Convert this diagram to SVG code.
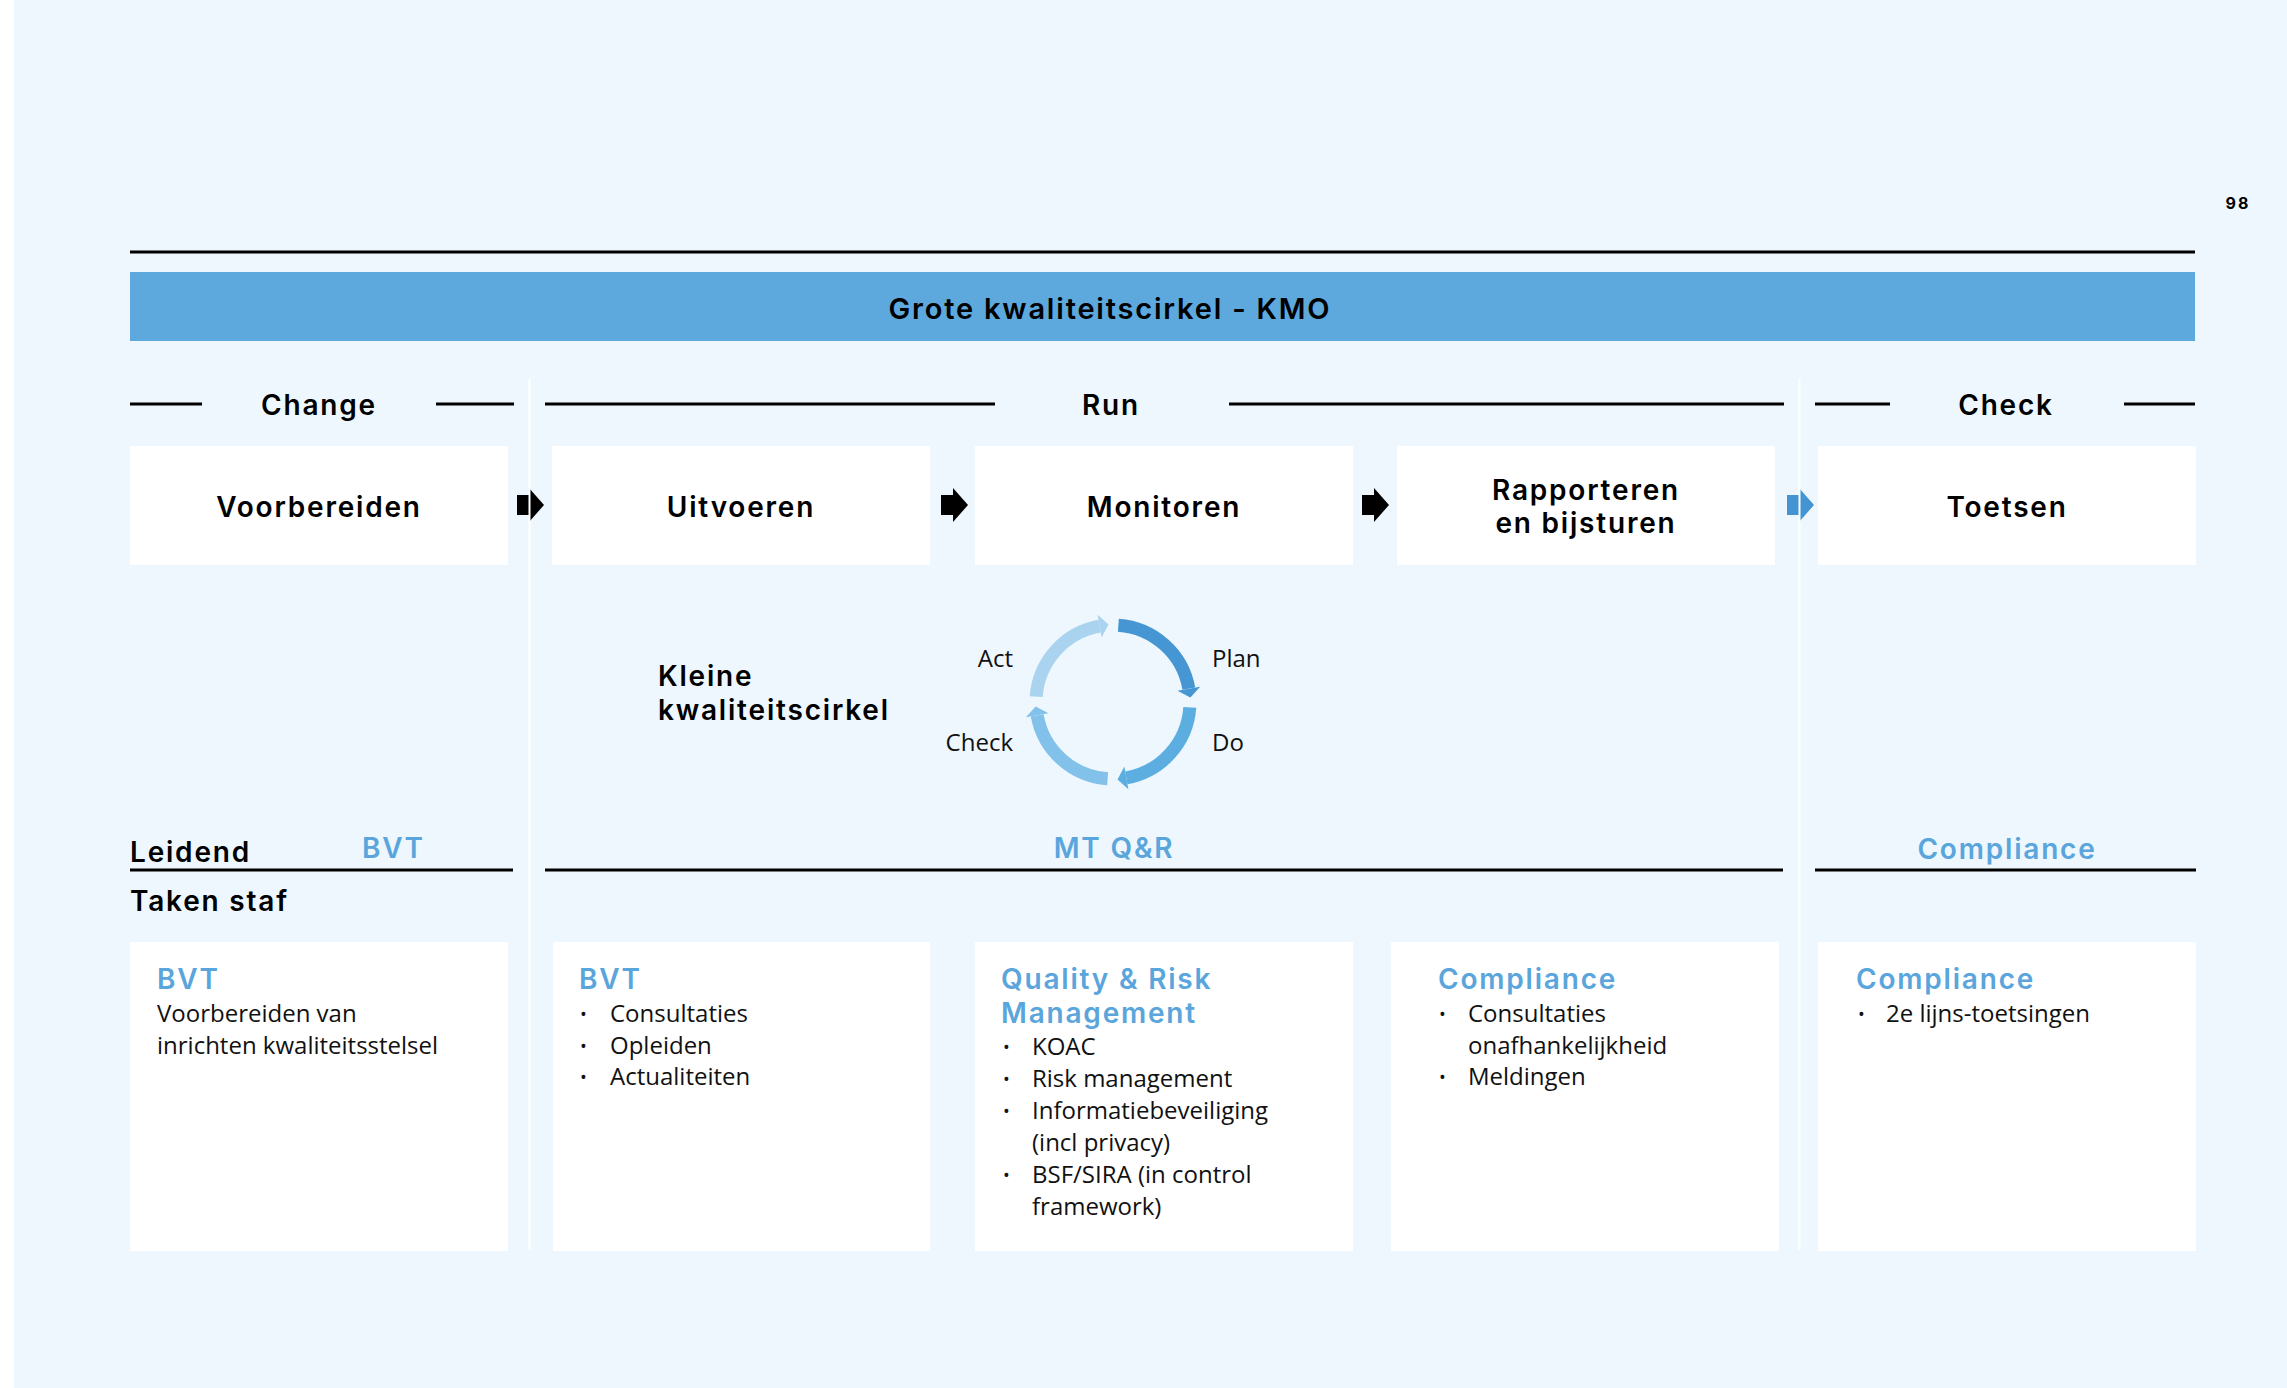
<svg xmlns="http://www.w3.org/2000/svg" width="2287" height="1388" viewBox="0 0 2287 1388">
  <style>
    .hd { font-family: Inter, "Liberation Sans", sans-serif; font-weight: 600; fill: #000; letter-spacing: 1.8px; }
    .bd { font-family: "Open Sans", "Liberation Sans", sans-serif; font-size: 24px; fill: #111; }
    .bu { font-family: "Open Sans", "Liberation Sans", sans-serif; font-size: 18px; fill: #111; }
    .blue { fill: #5AA5DC; }
    .mid { text-anchor: middle; }
    .ln { stroke: #000; stroke-width: 3; fill: none; }
    .box { fill: #FFFFFF; }
    .sep { stroke: #FFFFFF; stroke-width: 2; }
    .lbl { font-family: "Open Sans", "Liberation Sans", sans-serif; font-size: 24px; fill: #111; }
  </style>
  <defs>
    <marker id="mPlan" markerUnits="userSpaceOnUse" viewBox="0 -12 10 24" refX="0" refY="0" markerWidth="10" markerHeight="24" orient="auto" overflow="visible">
      <path d="M0,-11.5 L9,0 L0,11.5 z" fill="#4596D3"/>
    </marker>
    <marker id="mDo" markerUnits="userSpaceOnUse" viewBox="0 -12 10 24" refX="0" refY="0" markerWidth="10" markerHeight="24" orient="auto" overflow="visible">
      <path d="M0,-11.5 L9,0 L0,11.5 z" fill="#5DAEE0"/>
    </marker>
    <marker id="mCheck" markerUnits="userSpaceOnUse" viewBox="0 -12 10 24" refX="0" refY="0" markerWidth="10" markerHeight="24" orient="auto" overflow="visible">
      <path d="M0,-11.5 L9,0 L0,11.5 z" fill="#82C1EA"/>
    </marker>
    <marker id="mAct" markerUnits="userSpaceOnUse" viewBox="0 -12 10 24" refX="0" refY="0" markerWidth="10" markerHeight="24" orient="auto" overflow="visible">
      <path d="M0,-11.5 L9,0 L0,11.5 z" fill="#A9D3EE"/>
    </marker>
    <path id="flowArrow" d="M0,-10 L12,-10 L12,-17 L27,0 L12,17 L12,10 L0,10 z"/>
  </defs>

  <!-- background -->
  <rect x="0" y="0" width="2287" height="1388" fill="#EDF7FD"/>
  <rect x="0" y="0" width="14" height="1388" fill="#FFFFFF"/>

  <text x="2238" y="209" font-family="Inter, 'Liberation Sans', sans-serif" font-weight="700" font-size="16" letter-spacing="2" text-anchor="middle" fill="#000">98</text>

  <!-- header -->
  <g id="title">
    <line class="ln" x1="130" y1="252" x2="2195" y2="252"/>
    <rect x="130" y="272" width="2065" height="69" fill="#5DA8DC"/>
    <text class="hd mid" x="1110" y="319" font-size="29" letter-spacing="1.6">Grote kwaliteitscirkel - KMO</text>
  </g>

  <!-- phase headers -->
  <g id="phase-change">
    <line class="ln" x1="130" y1="404" x2="202" y2="404"/>
    <line class="ln" x1="436" y1="404" x2="514" y2="404"/>
    <text class="hd mid" x="319" y="415" font-size="28">Change</text>
  </g>
  <g id="phase-run">
    <line class="ln" x1="545" y1="404" x2="995" y2="404"/>
    <line class="ln" x1="1229" y1="404" x2="1784" y2="404"/>
    <text class="hd mid" x="1111" y="415" font-size="28">Run</text>
  </g>
  <g id="phase-check">
    <line class="ln" x1="1815" y1="404" x2="1890" y2="404"/>
    <line class="ln" x1="2124" y1="404" x2="2195" y2="404"/>
    <text class="hd mid" x="2006" y="415" font-size="28">Check</text>
  </g>

  <!-- process step nodes -->
  <g id="node-voorbereiden">
    <rect class="box" x="130" y="446" width="378" height="119"/>
    <text class="hd mid" x="319" y="517" font-size="28">Voorbereiden</text>
  </g>
  <g id="node-uitvoeren">
    <rect class="box" x="552" y="446" width="378" height="119"/>
    <text class="hd mid" x="741" y="517" font-size="28">Uitvoeren</text>
  </g>
  <g id="node-monitoren">
    <rect class="box" x="975" y="446" width="378" height="119"/>
    <text class="hd mid" x="1164" y="517" font-size="28">Monitoren</text>
  </g>
  <g id="node-rapporteren">
    <rect class="box" x="1397" y="446" width="378" height="119"/>
    <text class="hd mid" x="1586" y="500" font-size="28">Rapporteren</text>
    <text class="hd mid" x="1586" y="533" font-size="28">en bijsturen</text>
  </g>
  <g id="node-toetsen">
    <rect class="box" x="1818" y="446" width="378" height="119"/>
    <text class="hd mid" x="2007" y="517" font-size="28">Toetsen</text>
  </g>

  <!-- connectors -->
  <g id="connectors">
    <use href="#flowArrow" x="517" y="505" fill="#000"/>
    <use href="#flowArrow" x="941" y="505" fill="#000"/>
    <use href="#flowArrow" x="1362" y="505" fill="#000"/>
    <use href="#flowArrow" x="1787" y="505" fill="#4394D1"/>
  </g>

  <!-- separators -->
  <g id="separators">
    <line class="sep" x1="529.5" y1="379" x2="529.5" y2="1250"/>
    <line class="sep" x1="1799.5" y1="379" x2="1799.5" y2="1250"/>
  </g>

  <!-- small quality circle -->
  <g id="kleine-kwaliteitscirkel">
    <text class="hd" x="658" y="686" font-size="28" letter-spacing="1.6">Kleine</text>
    <text class="hd" x="658" y="720" font-size="28" letter-spacing="1.6">kwaliteitscirkel</text>
  </g>
  <g id="pdca-cycle" fill="none" stroke-width="13">
    <path d="M1118.37,625.19 A77,77 0 0 1 1188.83,688.63" stroke="#4596D3" marker-end="url(#mPlan)"/>
    <path d="M1189.81,707.37 A77,77 0 0 1 1126.37,777.83" stroke="#5DAEE0" marker-end="url(#mDo)"/>
    <path d="M1107.63,778.81 A77,77 0 0 1 1037.17,715.37" stroke="#82C1EA" marker-end="url(#mCheck)"/>
    <path d="M1036.19,696.63 A77,77 0 0 1 1099.63,626.17" stroke="#A9D3EE" marker-end="url(#mAct)"/>
  </g>
  <g id="pdca-labels">
    <text class="lbl" x="1212" y="667">Plan</text>
    <text class="lbl" x="1212" y="751">Do</text>
    <text class="lbl" x="1013" y="751" text-anchor="end">Check</text>
    <text class="lbl" x="1013" y="667" text-anchor="end">Act</text>
  </g>

  <!-- leidend row -->
  <g id="leidend">
    <text class="hd" x="130" y="862" font-size="28">Leidend</text>
    <text class="hd blue" x="362" y="858" font-size="28">BVT</text>
    <line class="ln" x1="130" y1="870" x2="513" y2="870"/>
    <text class="hd blue mid" x="1114" y="858" font-size="28">MT Q&amp;R</text>
    <line class="ln" x1="545" y1="870" x2="1783" y2="870"/>
    <text class="hd blue mid" x="2007" y="859" font-size="28">Compliance</text>
    <line class="ln" x1="1815" y1="870" x2="2196" y2="870"/>
    <text class="hd" x="130" y="911" font-size="28">Taken staf</text>
  </g>

  <!-- task boxes -->
  <g id="taak-bvt-change">
    <rect class="box" x="130" y="942" width="378" height="309"/>
    <text class="hd blue" x="157" y="989" font-size="28">BVT</text>
    <text class="bd" x="157" y="1022">Voorbereiden van</text>
    <text class="bd" x="157" y="1053.5">inrichten kwaliteitsstelsel</text>
  </g>
  <g id="taak-bvt-run">
    <rect class="box" x="553" y="942" width="377" height="309"/>
    <text class="hd blue" x="579" y="989" font-size="28">BVT</text>
    <text class="bu" x="580" y="1021">•</text><text class="bd" x="610" y="1022">Consultaties</text>
    <text class="bu" x="580" y="1052.5">•</text><text class="bd" x="610" y="1053.5">Opleiden</text>
    <text class="bu" x="580" y="1084">•</text><text class="bd" x="610" y="1085">Actualiteiten</text>
  </g>
  <g id="taak-qrm">
    <rect class="box" x="975" y="942" width="378" height="309"/>
    <text class="hd blue" x="1001" y="989" font-size="28">Quality &amp; Risk</text>
    <text class="hd blue" x="1001" y="1023" font-size="28">Management</text>
    <text class="bu" x="1003" y="1054">•</text><text class="bd" x="1032" y="1055">KOAC</text>
    <text class="bu" x="1003" y="1086">•</text><text class="bd" x="1032" y="1087">Risk management</text>
    <text class="bu" x="1003" y="1118">•</text><text class="bd" x="1032" y="1119">Informatiebeveiliging</text>
    <text class="bd" x="1032" y="1151">(incl privacy)</text>
    <text class="bu" x="1003" y="1182">•</text><text class="bd" x="1032" y="1183">BSF/SIRA (in control</text>
    <text class="bd" x="1032" y="1215">framework)</text>
  </g>
  <g id="taak-compliance-run">
    <rect class="box" x="1391" y="942" width="388" height="309"/>
    <text class="hd blue" x="1438" y="989" font-size="28">Compliance</text>
    <text class="bu" x="1439" y="1021">•</text><text class="bd" x="1468" y="1022">Consultaties</text>
    <text class="bd" x="1468" y="1053.5">onafhankelijkheid</text>
    <text class="bu" x="1439" y="1084">•</text><text class="bd" x="1468" y="1085">Meldingen</text>
  </g>
  <g id="taak-compliance-check">
    <rect class="box" x="1818" y="942" width="378" height="309"/>
    <text class="hd blue" x="1856" y="989" font-size="28">Compliance</text>
    <text class="bu" x="1858" y="1021">•</text><text class="bd" x="1886" y="1022">2e lijns-toetsingen</text>
  </g>
</svg>
